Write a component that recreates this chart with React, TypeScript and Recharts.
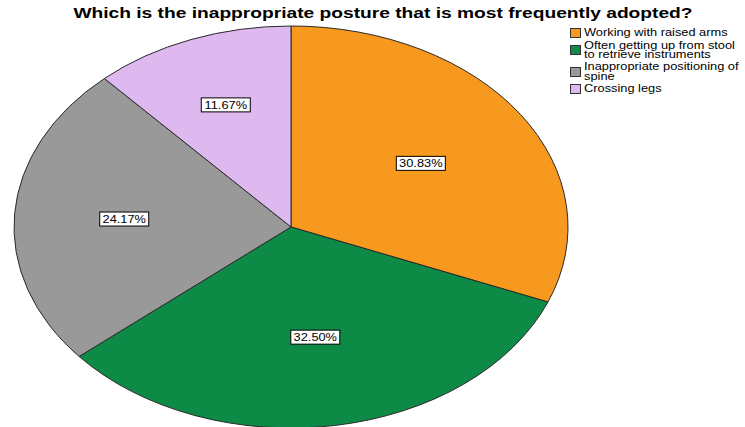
import React from 'react';
import { PieChart, Pie, Cell, Legend } from 'recharts';

const categories = [
  'Working with raised arms',
  'Often getting up from stool to retrieve instruments',
  'Inappropriate positioning of spine',
  'Crossing legs',
];
const percents = [30.83, 32.5, 24.17, 11.67];
const colors = ['#F7991F', '#0E8A47', '#999999', '#DDB9F0'];
const title = 'Which is the inappropriate posture that is most frequently adopted?';

const data = categories.map((name, i) => ({ name, value: percents[i] }));

const RX = 277;
const RY = 201;
const RAD = Math.PI / 180;
const FONT = "Arial, 'Liberation Sans', sans-serif";

const pt = (cx: number, cy: number, a: number) => [cx + RX * Math.cos(a * RAD), cy - RY * Math.sin(a * RAD)];

const EllipseSector = (props: any) => {
  const { cx, cy, startAngle, endAngle, fill } = props;
  const [x1, y1] = pt(cx, cy, startAngle);
  const [x2, y2] = pt(cx, cy, endAngle);
  const large = Math.abs(startAngle - endAngle) > 180 ? 1 : 0;
  const sweep = endAngle < startAngle ? 1 : 0;
  const d = `M${cx},${cy} L${x1},${y1} A${RX},${RY} 0 ${large} ${sweep} ${x2},${y2} Z`;
  return <path d={d} fill={fill} stroke="#2a2a2a" strokeWidth={1} strokeLinejoin="round" />;
};

const renderLabel = (props: any) => {
  const { cx, cy, startAngle, endAngle, value } = props;
  const half = (Math.abs(endAngle - startAngle) / 2) * RAD;
  const f = (2 * Math.sin(half)) / (3 * half);
  const mid = (startAngle + endAngle) / 2;
  const x = cx + RX * f * Math.cos(mid * RAD);
  const y = cy - RY * f * Math.sin(mid * RAD);
  const txt = Number(value).toFixed(2) + '%';
  const w = 49;
  const h = 14;
  return (
    <g>
      <rect x={x - w / 2} y={y - h / 2} width={w} height={h} fill="#ffffff" stroke="#000000" strokeWidth={1} />
      <text
        transform={`translate(${x},${y + 3.8}) scale(1.22,1)`}
        textAnchor="middle"
        fontFamily={FONT}
        fontSize={10.5}
        fill="#000"
      >
        {txt}
      </text>
    </g>
  );
};

const renderLegend = () => {
  return (
    <div style={{ fontFamily: FONT, fontSize: 10.5, lineHeight: '9.5px', color: '#000' }}>
      {categories.map((name, i) => (
        <div key={name} style={{ display: 'flex', alignItems: 'center', marginBottom: 2.5 }}>
          <span
            style={{
              display: 'inline-block',
              width: 11,
              height: 10,
              background: colors[i],
              border: '1px solid #333',
              boxSizing: 'border-box',
              marginRight: 3,
              flex: '0 0 auto',
            }}
          />
          <span style={{ width: 130, transform: 'scaleX(1.22)', transformOrigin: 'left center', display: 'inline-block' }}>
            {name}
          </span>
        </div>
      ))}
    </div>
  );
};

export default function App() {
  return (
    <div style={{ position: 'absolute', left: 0, top: 0, width: 745, height: 427, background: '#fff', overflow: 'hidden' }}>
      <div
        style={{
          position: 'absolute',
          left: 0,
          top: 5,
          width: 766,
          textAlign: 'center',
          fontFamily: FONT,
          fontWeight: 'bold',
          fontSize: 14,
          color: '#000',
          zIndex: 2,
          whiteSpace: 'nowrap',
        }}
      >
        <span style={{ display: 'inline-block', transform: 'scaleX(1.37)', transformOrigin: 'center' }}>{title}</span>
      </div>
      <PieChart width={745} height={440} margin={{ top: 0, right: 0, bottom: 0, left: 0 }}>
        <Pie
          data={data}
          dataKey="value"
          nameKey="name"
          cx={291}
          cy={227}
          outerRadius={RY}
          startAngle={90}
          endAngle={-270}
          isAnimationActive={false}
          shape={EllipseSector}
          label={renderLabel}
          labelLine={false}
          stroke="#2a2a2a"
        >
          {data.map((d, i) => (
            <Cell key={d.name} fill={colors[i]} />
          ))}
        </Pie>
        <Legend
          layout="vertical"
          align="right"
          verticalAlign="top"
          content={renderLegend}
          wrapperStyle={{ position: 'absolute', left: 570, top: 28, width: 175 }}
        />
      </PieChart>
    </div>
  );
}
